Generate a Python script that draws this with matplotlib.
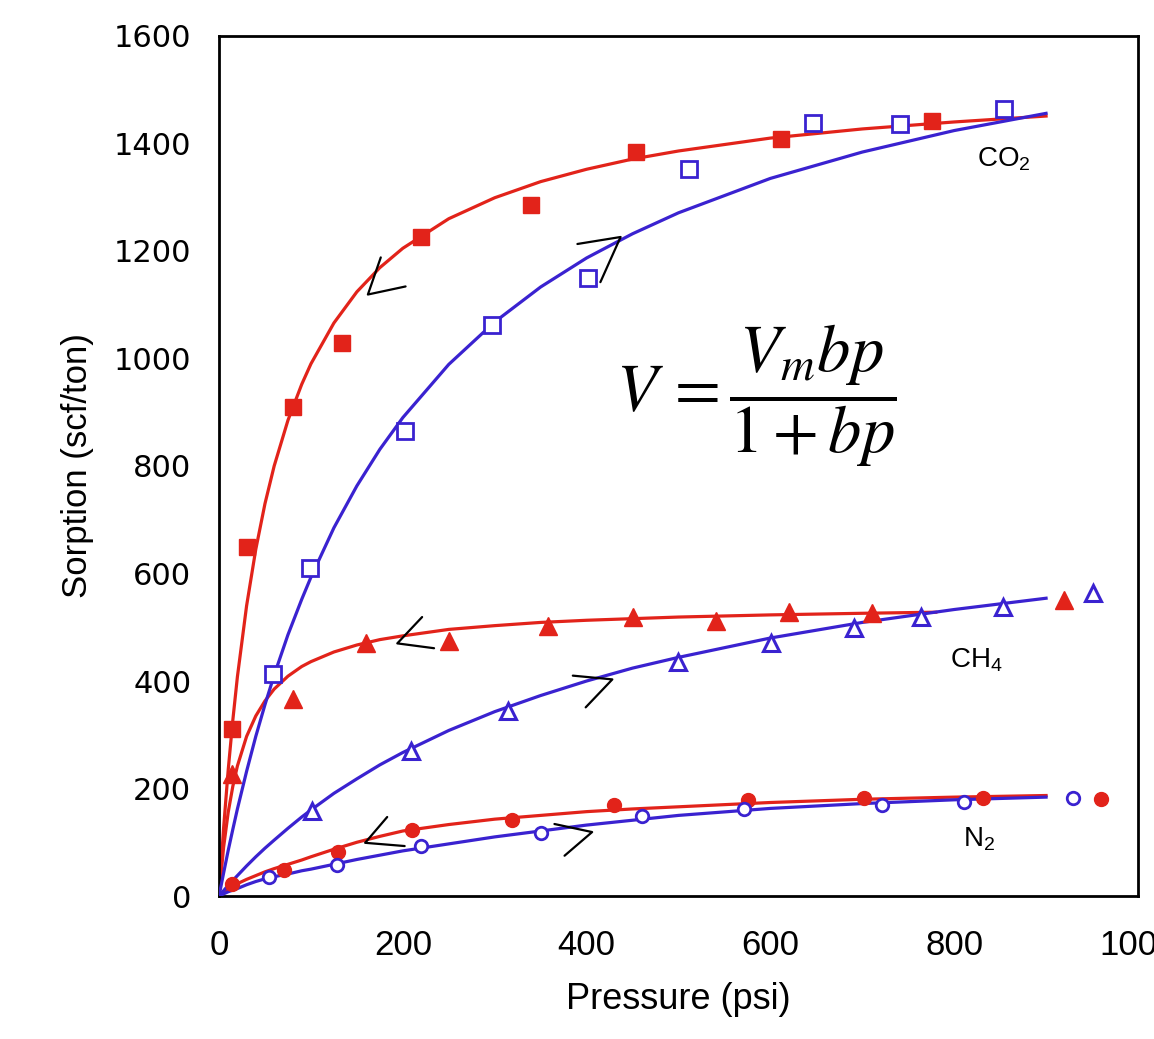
import matplotlib
matplotlib.use("Agg")
import matplotlib.pyplot as plt

RED = "#e2231a"
BLUE = "#3a22d0"

# measured points (pressure psi, sorption scf/ton)
co2_des_p = [14, 30, 80, 134, 220, 340, 454, 612, 776]
co2_des_v = [311, 650, 910, 1028, 1226, 1285, 1384, 1409, 1442]
co2_ads_p = [59, 99, 202, 297, 401, 511, 646, 741, 854]
co2_ads_v = [413, 611, 866, 1062, 1149, 1353, 1438, 1437, 1465]

ch4_des_p = [14, 80, 160, 250, 358, 450, 541, 620, 711, 920]
ch4_des_v = [227, 367, 470, 474, 502, 519, 511, 528, 526, 550]
ch4_ads_p = [101, 209, 315, 500, 601, 691, 764, 853, 951]
ch4_ads_v = [158, 270, 345, 435, 470, 498, 519, 537, 563]

n2_des_p = [14, 71, 130, 210, 319, 430, 576, 702, 831, 960]
n2_des_v = [22, 48, 82, 123, 142, 170, 179, 183, 183, 181]
n2_ads_p = [54, 128, 220, 350, 460, 571, 721, 811, 929]
n2_ads_v = [35, 58, 93, 118, 149, 162, 170, 175, 183]

# fitted curves
fit_p = [0, 5, 10, 15, 20, 30, 40, 50, 60, 75, 90, 100, 125, 150, 175, 200,
         250, 300, 350, 400, 450, 500, 600, 700, 800, 900]
co2_des_fit = [0, 127, 235, 327, 408, 540, 645, 730, 800, 885, 952, 990, 1066, 1124, 1169, 1205,
               1260, 1299, 1329, 1352, 1371, 1386, 1410, 1427, 1440, 1451]
co2_ads_fit = [0, 43, 85, 124, 162, 232, 297, 356, 411, 486, 552, 593, 685, 763, 831, 890,
               989, 1068, 1133, 1187, 1232, 1271, 1335, 1384, 1424, 1456]
ch4_ads_fit = [0, 10, 20, 29, 38, 56, 73, 89, 104, 126, 147, 160, 191, 218, 244, 267,
               308, 343, 373, 400, 424, 444, 480, 509, 533, 554]
n2_des_fit = [0, 7, 13, 18, 23, 31, 38, 45, 51, 59, 67, 73, 87, 100, 111, 121,
              133, 143, 150, 157, 162, 166, 174, 180, 184, 187]
n2_ads_fit = [0, 4, 8, 11, 14, 21, 27, 32, 36, 41, 47, 50, 59, 68, 76, 84,
              97, 110, 121, 132, 141, 150, 163, 172, 179, 184]
ch4_des_fit_p = [0, 5, 10, 15, 20, 30, 40, 50, 60, 75, 90, 100, 125, 150, 175, 200,
                 250, 300, 350, 400, 450, 500, 600, 700, 780]
ch4_des_fit = [0, 91, 156, 204, 242, 297, 335, 363, 385, 409, 427, 436, 454, 467, 477, 484,
               496, 503, 509, 513, 516, 519, 523, 526, 528]

# hand drawn direction chevrons (start, tip, end)
chevrons = [
    [(176, 1188), (162, 1119), (203, 1134)],
    [(390, 1213), (437, 1226), (415, 1142)],
    [(221, 519), (194, 470), (234, 461)],
    [(385, 410), (428, 403), (399, 351)],
    [(183, 147), (159, 99), (202, 93)],
    [(365, 134), (406, 119), (376, 75)],
]

plt.rcParams["mathtext.fontset"] = "custom"
plt.rcParams["mathtext.rm"] = "Liberation Sans"
plt.rcParams["mathtext.it"] = "Liberation Sans:italic"

fig = plt.figure(figsize=(11.54, 10.39), dpi=100)
ax = fig.add_axes([0.1898, 0.1376, 0.7963, 0.8278])

lw = 2.3
ax.plot(fit_p, co2_des_fit, color=RED, lw=lw, zorder=2)
ax.plot(ch4_des_fit_p, ch4_des_fit, color=RED, lw=lw, zorder=2)
ax.plot(fit_p, n2_des_fit, color=RED, lw=lw, zorder=2)
ax.plot(fit_p, co2_ads_fit, color=BLUE, lw=lw, zorder=3)
ax.plot(fit_p, ch4_ads_fit, color=BLUE, lw=lw, zorder=3)
ax.plot(fit_p, n2_ads_fit, color=BLUE, lw=lw, zorder=3)

ax.plot(co2_des_p, co2_des_v, "s", color=RED, ms=12, ls="none", zorder=4)
ax.plot(co2_ads_p, co2_ads_v, "s", mfc="white", mec=BLUE, mew=2, ms=11, ls="none", zorder=4)
ax.plot(ch4_des_p, ch4_des_v, "^", color=RED, ms=13, ls="none", zorder=4)
ax.plot(ch4_ads_p, ch4_ads_v, "^", mfc="white", mec=BLUE, mew=2.2, ms=11, ls="none", zorder=4)
ax.plot(n2_des_p, n2_des_v, "o", color=RED, ms=10, ls="none", zorder=4)
ax.plot(n2_ads_p, n2_ads_v, "o", mfc="white", mec=BLUE, mew=2, ms=9, ls="none", zorder=4)

for ch in chevrons:
    xs = [c[0] for c in ch]
    ys = [c[1] for c in ch]
    ax.plot(xs, ys, color="black", lw=1.6, zorder=5, solid_capstyle="round")

gas_font = dict(fontsize=20, family="Liberation Sans", math_fontfamily="custom")
ax.text(854, 1371, "CO$_2$", ha="center", va="center", **gas_font)
ax.text(824, 438, "CH$_4$", ha="center", va="center", **gas_font)
ax.text(827, 106, "N$_2$", ha="center", va="center", **gas_font)

ax.text(585, 931, r"$V\,=\dfrac{V_m bp}{1+bp}$", ha="center", va="center",
        fontsize=48, math_fontfamily="stix")

ax.set_xlim(0, 1000)
ax.set_ylim(0, 1600)
ax.set_xticks(range(0, 1001, 200))
ax.set_yticks(range(0, 1601, 200))
ax.tick_params(length=0)
ax.tick_params(axis="y", pad=20)
ax.tick_params(axis="x", pad=24)
for lab in ax.get_yticklabels():
    lab.set_family("DejaVu Sans")
    lab.set_fontsize(22)
for lab in ax.get_xticklabels():
    lab.set_family("Liberation Sans")
    lab.set_fontsize(25)

ax.set_xlabel("Pressure (psi)", family="Liberation Sans", fontsize=26, labelpad=14)
ax.set_ylabel("Sorption (scf/ton)", family="Liberation Sans", fontsize=25, labelpad=14)

for s in ax.spines.values():
    s.set_linewidth(2)
    s.set_color("black")

fig.savefig("out.png", dpi=100)
